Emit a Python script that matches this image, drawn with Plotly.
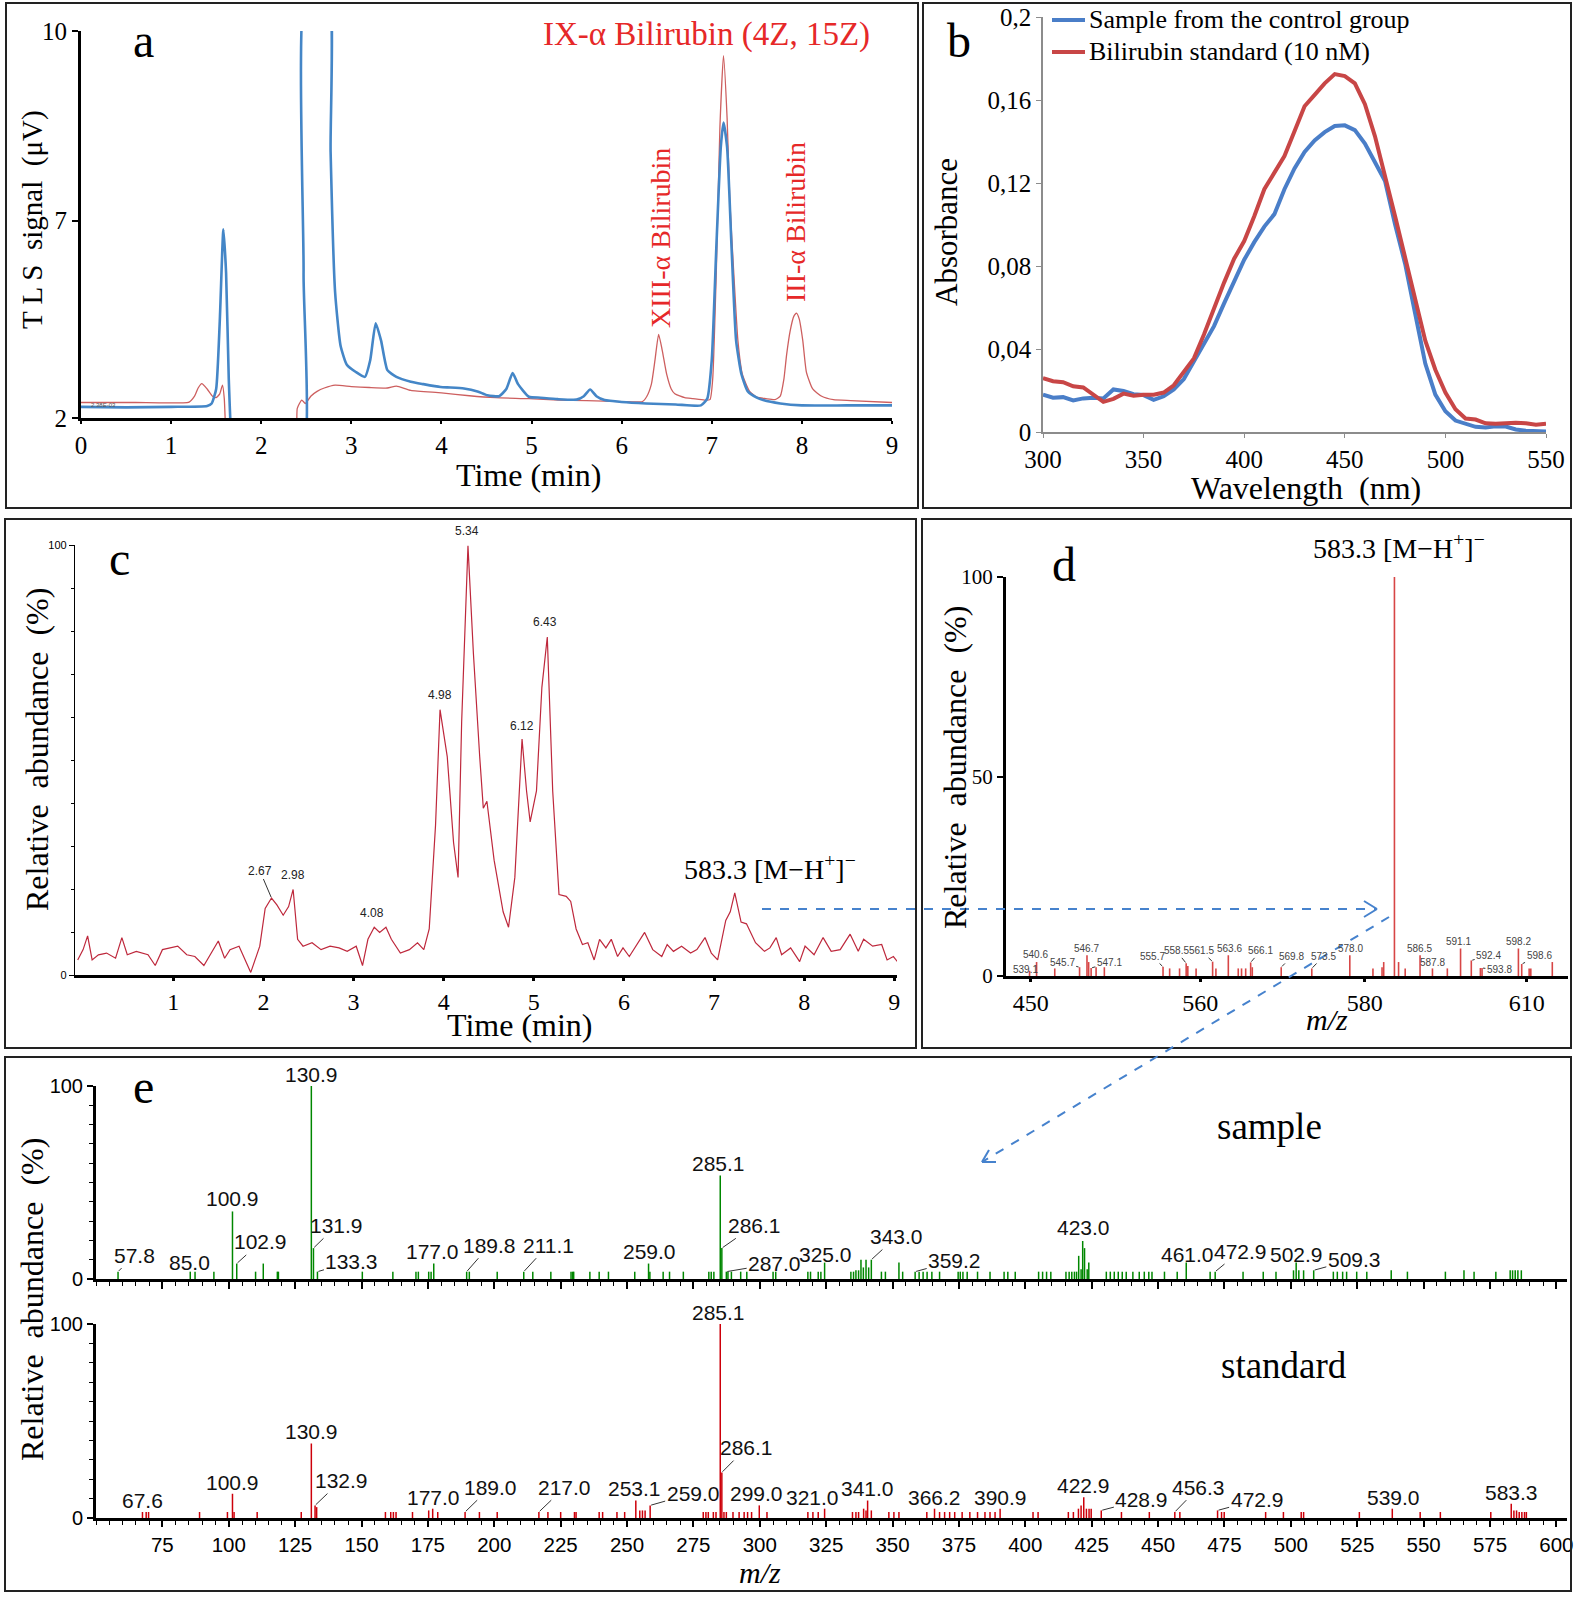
import plotly.graph_objects as go

W, H = 1575, 1600
SERIF = "Liberation Serif, Times New Roman, serif"
NARROW = "Liberation Sans Narrow, Arial Narrow, Liberation Sans, sans-serif"

# ---------------- Panel a: TLS chromatograms ----------------
a_time_sample = [0, 0.5, 1.0, 1.4, 1.45, 1.5, 1.54, 1.58, 1.61, 1.64, 1.67, 1.70, 2.44, 2.47, 2.50,
                 2.74, 2.77, 2.82, 2.88, 2.95, 3.05, 3.15, 3.21, 3.27, 3.33, 3.40, 3.5, 3.66, 3.8,
                 3.99, 4.1, 4.25, 4.4, 4.51, 4.64, 4.72, 4.79, 4.85, 4.97, 5.1, 5.29, 5.5, 5.58,
                 5.65, 5.72, 5.81, 6.0, 6.27, 6.6, 6.88, 6.95, 7.0, 7.05, 7.1, 7.13, 7.17, 7.22,
                 7.27, 7.33, 7.40, 7.5, 7.57, 7.76, 8.0, 8.5, 9.0]
a_sig_sample = [2.23, 2.22, 2.23, 2.25, 2.3, 2.6, 4.0, 5.9, 5.0, 2.8, 1.5, 1.0, 1.0, 5.0, 11.0,
                11.0, 7.5, 4.6, 3.5, 3.1, 2.95, 2.85, 3.2, 3.96, 3.6, 2.99, 2.85, 2.75, 2.70,
                2.64, 2.63, 2.61, 2.55, 2.47, 2.45, 2.6, 2.93, 2.7, 2.44, 2.42, 2.39, 2.38, 2.45,
                2.59, 2.45, 2.37, 2.33, 2.30, 2.28, 2.26, 2.4, 3.2, 5.5, 7.6, 8.11, 7.6, 5.5,
                3.6, 2.9, 2.55, 2.42, 2.37, 2.30, 2.26, 2.26, 2.26]
a_time_std = [0, 0.6, 1.2, 1.26, 1.30, 1.34, 1.40, 1.46, 1.50, 1.54, 1.57, 1.59, 1.61, 1.63, 2.36,
              2.40, 2.45, 2.49, 2.55, 2.62, 2.7, 2.82, 3.0, 3.2, 3.4, 3.5, 3.66, 4.0, 4.31, 4.6,
              4.97, 5.3, 5.61, 6.0, 6.23, 6.28, 6.33, 6.37, 6.41, 6.45, 6.50, 6.55, 6.59, 6.7,
              6.79, 6.92, 6.98, 7.01, 7.05, 7.09, 7.13, 7.17, 7.20, 7.24, 7.29, 7.34, 7.42,
              7.50, 7.6, 7.70, 7.76, 7.80, 7.83, 7.87, 7.91, 7.94, 7.97, 8.01, 8.05, 8.12,
              8.22, 8.35, 8.54, 9.0]
a_sig_std = [2.32, 2.32, 2.33, 2.45, 2.62, 2.71, 2.6, 2.45, 2.42, 2.5, 2.68, 2.4, 1.5, 1.0, 1.0,
             2.2, 2.37, 2.3, 2.45, 2.55, 2.62, 2.68, 2.65, 2.63, 2.62, 2.66, 2.57, 2.52, 2.46,
             2.42, 2.40, 2.37, 2.36, 2.34, 2.34, 2.45, 2.7, 3.2, 3.73, 3.4, 2.9, 2.6, 2.5, 2.42,
             2.40, 2.37, 2.38, 2.8, 5.0, 8.0, 9.49, 8.2, 6.5, 5.13, 3.6, 2.9, 2.55, 2.43, 2.40,
             2.38, 2.45, 2.8, 3.3, 3.8, 4.1, 4.17, 4.05, 3.6, 2.95, 2.6, 2.45, 2.38, 2.36, 2.32]
a_ytick_vals = [2, 6.08, 10]
a_ytick_text = ["2", "7", "10"]
a_xticks = [0, 1, 2, 3, 4, 5, 6, 7, 8, 9]

# ---------------- Panel b: absorbance spectra ----------------
b_wavelength = [300, 305, 310, 315, 320, 325, 330, 335, 340, 345, 350, 355, 360, 365, 370, 375,
                380, 385, 390, 395, 400, 405, 410, 415, 420, 425, 430, 435, 440, 445, 450, 455,
                460, 465, 470, 475, 480, 485, 490, 495, 500, 505, 510, 515, 520, 525, 530, 535,
                540, 545, 550]
b_sample = [.018, .0165, .0168, .0152, .0162, .0165, .0162, .0205, .0198, .0182, .0178, .0155,
            .0172, .0205, .0255, .034, .042, .051, .062, .073, .083, .0915, .099, .105, .117,
            .127, .135, .1405, .1445, .1475, .1478, .1455, .139, .130, .121, .100, .081, .057,
            .033, .018, .010, .0055, .0038, .0025, .0022, .0028, .0026, .0012, .0006, .0005,
            .0002]
b_standard = [.026, .0245, .024, .022, .0215, .018, .0145, .016, .0185, .0175, .018, .018, .019,
              .0225, .029, .0355, .047, .060, .072, .0835, .092, .104, .117, .125, .133, .145,
              .157, .1625, .168, .1725, .1715, .168, .158, .1425, .124, .104, .084, .064, .044,
              .030, .019, .011, .0065, .006, .0042, .004, .0042, .0045, .0042, .0035, .004]
b_series_names = ["Sample from the control group", "Bilirubin standard (10 nM)"]
b_yticks = [0, 0.04, 0.08, 0.12, 0.16, 0.2]
b_ytick_text = ["0", "0,04", "0,08", "0,12", "0,16", "0,2"]
b_xticks = [300, 350, 400, 450, 500, 550]

# ---------------- Panel c: LC-MS chromatogram ----------------
c_time = [-0.06, 0.00, 0.05, 0.10, 0.17, 0.26, 0.36, 0.43, 0.49, 0.59, 0.72, 0.80, 0.88, 0.98,
          1.05, 1.15, 1.24, 1.34, 1.44, 1.50, 1.57, 1.63, 1.73, 1.79, 1.86, 1.96, 2.02, 2.09,
          2.15, 2.22, 2.28, 2.33, 2.38, 2.44, 2.54, 2.64, 2.74, 2.84, 2.93, 3.03, 3.10, 3.16,
          3.23, 3.29, 3.36, 3.42, 3.52, 3.62, 3.71, 3.78, 3.84, 3.91, 3.96, 4.04, 4.11, 4.16,
          4.20, 4.27, 4.33, 4.40, 4.44, 4.48, 4.56, 4.66, 4.72, 4.79, 4.87, 4.92, 4.96, 5.03,
          5.09, 5.15, 5.21, 5.28, 5.36, 5.41, 5.47, 5.54, 5.60, 5.67, 5.73, 5.80, 5.86, 5.93,
          5.99, 6.06, 6.16, 6.23, 6.32, 6.42, 6.48, 6.55, 6.64, 6.74, 6.81, 6.90, 6.97, 7.04,
          7.13, 7.18, 7.23, 7.30, 7.36, 7.46, 7.56, 7.62, 7.69, 7.75, 7.85, 7.95, 8.01, 8.11,
          8.21, 8.30, 8.40, 8.51, 8.60, 8.66, 8.76, 8.86, 8.92, 8.99, 9.05]
c_abund = [3.5, 5.9, 9.1, 3.5, 4.7, 5.1, 3.9, 8.7, 4.7, 5.5, 4.7, 2.2, 5.9, 6.3, 6.7, 4.7, 4.3,
           2.2, 5.9, 7.9, 3.9, 5.9, 6.7, 3.9, 0.6, 6.7, 15.5, 17.9, 16.3, 13.9, 15.9, 19.9, 8.3,
           6.7, 7.5, 5.9, 6.7, 6.3, 5.5, 6.7, 2.2, 8.3, 11.1, 9.9, 11.1, 8.3, 5.1, 5.9, 7.5, 5.9,
           10.7, 34.8, 61.7, 50.8, 30.8, 22.7, 58.9, 99.8, 74.9, 50.8, 38.8, 40.4, 26.7, 14.7,
           11.1, 22.7, 54.9, 42.8, 35.6, 42.8, 66.9, 78.6, 42.8, 18.7, 18.3, 17.1, 10.7, 7.1,
           7.5, 3.5, 8.3, 6.3, 8.3, 4.3, 6.3, 4.3, 7.5, 9.9, 5.9, 4.3, 7.1, 5.5, 6.7, 5.1, 5.9,
           8.7, 5.1, 3.5, 12.7, 14.7, 19.1, 12.3, 11.9, 7.5, 5.5, 6.3, 8.7, 4.7, 6.3, 3.1, 6.7,
           4.7, 8.7, 5.5, 5.9, 9.5, 5.5, 8.3, 6.7, 7.1, 3.5, 4.3, 2.7]
c_peak_text = ["2.67", "2.98", "4.08", "4.98", "5.34", "6.12", "6.43"]
c_peak_label_x = [1.96, 2.33, 3.21, 3.96, 4.26, 4.87, 5.13]
c_peak_label_y = [24.3, 23.2, 14.4, 65.0, 103.2, 57.9, 82.0]
c_peak_x = [2.09, None, None, None, None, None, None]
c_peak_y = [17.9, None, None, None, None, None, None]
c_xticks = [1, 2, 3, 4, 5, 6, 7, 8, 9]
c_yticks = [0, 100]

# ---------------- Panel d: MS spectrum ----------------
d_mz = [539.05, 539.9, 542.1, 545.1, 546.0, 546.2, 546.5, 547.1, 548.1, 555.2, 556.0, 557.2,
        558.0, 558.2, 559.2, 561.2, 561.6, 563.1, 564.3, 564.7, 565.2, 565.8, 566.0, 569.5,
        573.2, 577.8, 580.6, 581.7, 581.9, 583.2, 583.7, 584.5, 586.3, 587.8, 589.6, 591.2,
        592.5, 593.6, 593.8, 598.2, 598.6, 599.5, 599.7, 602.3]
d_int = [1.3, 3.5, 1.9, 2.2, 5.2, 3.5, 2.0, 2.2, 2.2, 2.3, 1.9, 1.9, 3.2, 2.5, 1.9, 3.6, 1.9,
         5.2, 1.9, 1.9, 1.9, 3.4, 2.2, 2.2, 1.9, 5.2, 1.9, 2.2, 3.5, 100, 3.5, 1.9, 5.2, 1.9,
         1.9, 6.9, 3.9, 2.0, 2.0, 6.9, 3.0, 1.9, 1.9, 3.5]
d_label_text = ["539.1", "540.6", "545.7", "546.7", "547.1", "555.7", "558.5", "561.5", "563.6",
                "566.1", "569.8", "573.5", "578.0", "586.5", "587.8", "591.1", "592.4", "593.8",
                "598.2", "598.6"]
d_label_x = [538.6, 539.8, 543.0, 546.0, 548.7, 553.9, 556.8, 559.8, 563.2, 567.0, 570.8, 574.6,
             577.9, 586.2, 587.8, 591.0, 594.6, 595.9, 598.2, 600.7]
d_label_y = [1.6, 5.3, 3.3, 6.8, 3.3, 4.9, 6.3, 6.3, 6.8, 6.3, 4.9, 4.9, 6.8, 6.8, 3.4, 8.6,
             5.1, 1.6, 8.6, 5.1]
d_leader_x = [None, None, 545.1, None, 546.5, 555.2, 558.0, 561.2, None, 565.8, 569.5, 573.2,
              None, None, None, None, 592.5, 593.8, None, 598.6]
d_leader_y = [None, None, 2.2, None, 2.0, 2.3, 3.2, 3.6, None, 3.4, 2.2, 1.9, None, None, None,
              None, 3.9, 2.0, None, 3.0]
d_tickvals = [539.2, 559.7, 579.6, 599.2]
d_ticktext = ["450", "560", "580", "610"]
d_yticks = [0, 50, 100]

# ---------------- Panel e: MS/MS spectra ----------------
e_sample_mz = [58.3, 85.5, 87.3, 94.4, 101.4, 103.0, 110.1, 113.0, 118.3, 118.7, 131.1, 131.9,
               133.4, 150.3, 161.8, 170.5, 171.4, 175.3, 176.2, 177.2, 189.6, 190.6, 201.1,
               211.1, 214.5, 221.3, 228.9, 229.5, 229.9, 236.0, 239.5, 243.0, 252.9, 258.1,
               258.6, 263.6, 266.0, 271.2, 280.8, 281.7, 282.7, 285.1, 285.7, 287.4, 288.0,
               289.3, 292.8, 295.1, 305.0, 306.0, 318.1, 319.1, 322.0, 323.0, 324.4, 334.3,
               335.3, 336.2, 337.2, 338.1, 339.0, 340.0, 341.0, 342.0, 345.8, 347.3, 352.4,
               353.8, 358.5, 360.0, 361.5, 363.0, 364.8, 367.7, 374.7, 375.5, 376.5, 378.1,
               382.0, 386.7, 392.0, 393.4, 396.2, 405.0, 406.5, 408.0, 409.6, 415.3, 416.5,
               417.5, 418.5, 419.3, 420.1, 421.0, 421.6, 422.3, 423.3, 423.9, 430.5, 432.0,
               433.5, 435.0, 436.5, 438.0, 440.5, 442.9, 444.8, 446.5, 447.7, 452.4, 457.2,
               460.6, 469.6, 471.5, 482.0, 489.6, 494.4, 501.0, 502.0, 503.0, 504.8, 508.6,
               516.0, 517.5, 519.5, 521.0, 524.8, 528.6, 537.8, 543.9, 558.2, 565.2, 569.0,
               577.2, 582.6, 583.5, 584.5, 585.5, 586.8]
e_sample_int = [3.8, 3.8, 3.8, 3.8, 35, 8, 3.8, 8, 3.8, 3.8, 100, 16, 3.8, 3.8, 3.8, 3.8, 3.8,
                3.8, 3.8, 8, 3.8, 3.8, 3.8, 3.8, 3.8, 3.8, 3.8, 3.8, 3.8, 3.8, 3.8, 3.8, 3.8, 8,
                3.8, 3.8, 3.8, 3.8, 3.8, 3.8, 3.8, 53.6, 16, 3.8, 3.8, 3.8, 3.8, 3.8, 3.8, 3.8,
                3.8, 3.8, 3.8, 3.8, 8.5, 3.8, 3.8, 4.5, 4.5, 10, 6, 10, 6, 10, 3.8, 3.8, 8.5,
                3.8, 3.8, 3.8, 3.8, 3.8, 3.8, 3.8, 3.8, 3.8, 3.8, 3.8, 3.8, 3.8, 3.8, 3.8, 3.8,
                3.8, 3.8, 3.8, 3.8, 3.8, 3.8, 3.8, 3.8, 3.8, 12, 5, 19.7, 16, 5, 8.5, 3.8, 3.8,
                3.8, 3.8, 3.8, 3.8, 3.8, 3.8, 3.8, 3.8, 3.8, 3.8, 3.8, 8.5, 3.8, 3.8, 3.8, 3.8,
                3.8, 4.5, 8.5, 4.5, 4.5, 4.5, 3.8, 3.8, 3.8, 3.8, 3.8, 3.8, 4.5, 3.8, 3.8, 4.5,
                3.8, 3.8, 4.5, 4.5, 4.5, 4.5, 4.5]
e_sample_label_text = ["57.8", "85.0", "100.9", "102.9", "130.9", "131.9", "133.3", "177.0",
                       "189.8", "211.1", "259.0", "285.1", "286.1", "287.0", "325.0", "343.0",
                       "359.2", "423.0", "461.0", "472.9", "502.9", "509.3"]
e_sample_label_x = [64.5, 85.2, 101.4, 112.0, 131.1, 140.7, 146.4, 176.8, 198.3, 220.3, 258.6,
                    284.3, 298.0, 305.6, 324.8, 351.5, 373.4, 422.0, 461.0, 481.0, 502.0, 523.9]
e_sample_label_y = [12.4, 8.5, 41.6, 19.2, 106, 27.8, 8.9, 14.0, 17.5, 17.5, 14.0, 59.6, 27.8,
                    8.0, 12.8, 22.0, 9.4, 26.5, 12.8, 14.5, 12.8, 10.3]
e_sample_leader_x = [58.3, None, None, 103.0, None, 131.9, 133.4, None, 189.6, 211.1, None,
                     None, 285.7, 287.4, None, 342.0, 358.5, None, None, 471.5, None, 508.6]
e_sample_leader_y = [3.8, None, None, 8, None, 16, 3.8, None, 3.8, 3.8, None, None, 16, 3.8,
                     None, 10, 3.8, None, None, 3.8, None, 4.5]

e_std_mz = [67.5, 68.9, 69.8, 89.0, 99.5, 101.4, 102.0, 110.7, 127.3, 131.1, 132.5, 133.1, 159.0,
            161.0, 162.0, 163.0, 169.2, 175.3, 176.8, 178.7, 189.0, 194.4, 201.1, 216.8, 220.2,
            225.0, 230.2, 230.8, 239.5, 240.8, 246.2, 249.1, 253.3, 254.8, 255.8, 256.8, 258.7,
            278.7, 279.7, 280.6, 282.5, 283.5, 285.1, 285.7, 286.5, 287.4, 289.9, 292.2, 294.1,
            295.4, 296.9, 299.8, 302.7, 318.1, 320.0, 322.0, 324.4, 334.9, 336.2, 337.2, 339.1,
            340.0, 340.6, 342.0, 348.6, 350.5, 352.4, 362.9, 365.8, 367.7, 369.6, 371.5, 373.4,
            376.2, 379.1, 382.0, 384.8, 386.7, 388.6, 390.5, 402.9, 404.8, 416.2, 418.1, 420.0,
            421.0, 422.0, 423.0, 424.0, 424.8, 428.6, 436.2, 446.7, 456.3, 458.2, 472.4, 473.9,
            474.9, 490.5, 497.2, 503.9, 504.8, 525.8, 538.2, 548.7, 556.3, 575.3, 583.0, 584.0,
            585.0, 586.0, 587.0, 588.0, 588.7]
e_std_int = [3.1, 3.1, 3.1, 3.1, 3.1, 12.5, 3.1, 3.1, 3.1, 38.4, 6.5, 5.6, 3.1, 3.1, 3.1, 3.1,
             3.1, 3.9, 4.8, 3.1, 3.1, 3.1, 3.1, 3.1, 3.1, 3.1, 3.1, 3.1, 3.1, 3.1, 3.1, 3.1, 9.0,
             3.9, 3.9, 3.9, 6.5, 3.1, 3.1, 3.1, 3.1, 3.1, 100, 23.5, 3.1, 3.1, 3.1, 3.1, 3.1,
             3.1, 3.1, 6.5, 3.1, 3.1, 3.1, 3.1, 4.8, 3.1, 3.1, 3.1, 4.8, 3.9, 9.0, 3.9, 3.1,
             3.1, 3.1, 3.1, 4.8, 3.1, 3.1, 3.1, 3.1, 3.1, 3.1, 3.1, 3.1, 3.1, 3.1, 4.8, 3.1,
             3.1, 3.1, 3.1, 4.8, 6.5, 10.7, 4.8, 4.8, 4.8, 3.9, 3.1, 3.1, 3.1, 3.1, 3.9, 3.1,
             3.1, 3.1, 3.1, 3.1, 3.1, 3.1, 4.8, 3.1, 3.1, 3.1, 7.3, 3.9, 3.9, 3.1, 3.1, 3.1, 3.1]
e_std_label_text = ["67.6", "100.9", "130.9", "132.9", "177.0", "189.0", "217.0", "253.1",
                    "259.0", "285.1", "286.1", "299.0", "321.0", "341.0", "366.2", "390.9",
                    "422.9", "428.9", "456.3", "472.9", "539.0", "583.3"]
e_std_label_x = [67.5, 101.4, 131.1, 142.3, 177.2, 198.6, 226.6, 252.9, 274.9, 284.5, 295.0,
                 298.9, 320.0, 340.6, 365.8, 390.5, 422.0, 443.9, 465.4, 487.3, 538.5, 583.0]
e_std_label_y = [9.0, 18.4, 44.4, 19.3, 10.4, 15.9, 15.9, 15.0, 12.8, 106, 36.3, 12.5, 10.4,
                 15.4, 10.4, 10.4, 16.7, 9.4, 15.9, 9.4, 10.4, 13.3]
e_std_leader_x = [None, None, None, 132.5, None, 189.0, 216.8, None, 258.7, None, 285.7, None,
                  None, None, None, None, None, 428.6, 456.3, 472.4, None, None]
e_std_leader_y = [None, None, None, 6.5, None, 3.1, 3.1, None, 6.5, None, 23.5, None, None,
                  None, None, None, None, 3.9, 3.1, 3.9, None, None]
e_xticks = [75, 100, 125, 150, 175, 200, 225, 250, 275, 300, 325, 350, 375, 400, 425, 450, 475,
            500, 525, 550, 575, 600]
e_yticks = [0, 100]

# ---------------- colours ----------------
BLUE_A = "rgb(68,134,199)"
RED_A = "rgb(205,95,95)"
BLUE_B = "rgb(74,126,200)"
RED_B = "rgb(200,70,70)"
RED_C = "rgb(190,40,60)"
RED_D = "rgb(215,70,70)"
GREEN_E = "rgb(0,135,0)"
RED_E = "rgb(205,0,10)"
ARROW = "rgb(70,130,205)"


def px(x):
    return x / W


def py(y):
    return 1 - y / H


def stems(xs, hs):
    X, Y = [], []
    for x, h in zip(xs, hs):
        X += [x, x, None]
        Y += [0, h, None]
    return X, Y


fig = go.Figure()

# panel a
fig.add_trace(go.Scatter(x=a_time_std, y=a_sig_std, mode="lines", xaxis="x", yaxis="y",
                         line=dict(color=RED_A, width=1.3, shape="spline", smoothing=0.5),
                         showlegend=False))
fig.add_trace(go.Scatter(x=a_time_sample, y=a_sig_sample, mode="lines", xaxis="x", yaxis="y",
                         line=dict(color=BLUE_A, width=2.6, shape="spline", smoothing=0.5),
                         showlegend=False))
# panel b
fig.add_trace(go.Scatter(x=b_wavelength, y=b_sample, mode="lines", xaxis="x2", yaxis="y2",
                         name=b_series_names[0], showlegend=False,
                         line=dict(color=BLUE_B, width=4)))
fig.add_trace(go.Scatter(x=b_wavelength, y=b_standard, mode="lines", xaxis="x2", yaxis="y2",
                         name=b_series_names[1], showlegend=False,
                         line=dict(color=RED_B, width=4)))
# panel c
fig.add_trace(go.Scatter(x=c_time, y=c_abund, mode="lines", xaxis="x3", yaxis="y3",
                         line=dict(color=RED_C, width=1.2), showlegend=False))
# panel d
dx_, dy_ = stems(d_mz, d_int)
fig.add_trace(go.Scatter(x=dx_, y=dy_, mode="lines", xaxis="x4", yaxis="y4",
                         line=dict(color=RED_D, width=1.6), showlegend=False))
# panel e
ex_, ey_ = stems(e_sample_mz, e_sample_int)
fig.add_trace(go.Scatter(x=ex_, y=ey_, mode="lines", xaxis="x5", yaxis="y5",
                         line=dict(color=GREEN_E, width=1.5), showlegend=False))
sx_, sy_ = stems(e_std_mz, e_std_int)
fig.add_trace(go.Scatter(x=sx_, y=sy_, mode="lines", xaxis="x6", yaxis="y6",
                         line=dict(color=RED_E, width=1.5), showlegend=False))


def axis(domain, rng, **kw):
    d = dict(domain=domain, range=rng, showgrid=False, zeroline=False, showline=True,
             linecolor="black", linewidth=3, ticks="outside", tickcolor="black",
             fixedrange=True, automargin=False)
    d.update(kw)
    return d


layout = dict(
    width=W, height=H, margin=dict(l=0, r=0, t=0, b=0, pad=0, autoexpand=False),
    paper_bgcolor="white", plot_bgcolor="white",
    font=dict(family=SERIF, color="black"),
    showlegend=False,
)

# a
layout["xaxis"] = axis([px(81), px(892)], [0, 9], anchor="y", tickvals=a_xticks,
                       ticklen=3, tickwidth=2, tickfont=dict(family=SERIF, size=25))
layout["yaxis"] = axis([py(418), py(31)], [2, 10], anchor="x", tickvals=a_ytick_vals,
                       ticktext=a_ytick_text, ticklen=6, tickwidth=2,
                       tickfont=dict(family=SERIF, size=25))
# b
layout["xaxis2"] = axis([px(1043), px(1546)], [300, 550], anchor="y2", tickvals=b_xticks,
                        linecolor="#8c8c8c", linewidth=1.5, tickcolor="#8c8c8c", ticklen=4,
                        tickfont=dict(family=SERIF, size=25))
layout["yaxis2"] = axis([py(432), py(17)], [0, 0.2], anchor="x2", tickvals=b_yticks,
                        ticktext=b_ytick_text, linecolor="#8c8c8c", linewidth=1.5,
                        tickcolor="#8c8c8c", ticklen=5, tickfont=dict(family=SERIF, size=25))
# c
layout["xaxis3"] = axis([px(75), px(897)], [-0.09, 9.03], anchor="y3", tickvals=c_xticks,
                        ticklen=3, tickwidth=2.5, linewidth=3,
                        tickfont=dict(family=SERIF, size=24))
layout["yaxis3"] = axis([py(975), py(545)], [0, 100], anchor="x3", tickvals=c_yticks,
                        linewidth=1.2, ticklen=5, tickwidth=1,
                        tickfont=dict(family=NARROW, size=11),
                        minor=dict(dtick=10, ticklen=3, ticks="outside", tickcolor="black"))
# d
layout["xaxis4"] = axis([px(1006), px(1568)], [536.2, 604.2], anchor="y4", tickvals=d_tickvals,
                        ticktext=d_ticktext, ticklen=3, tickwidth=3,
                        tickfont=dict(family=SERIF, size=24))
layout["yaxis4"] = axis([py(976), py(577)], [0, 100], anchor="x4", tickvals=d_yticks,
                        ticklen=6, tickwidth=2, tickfont=dict(family=SERIF, size=21))
# e top
minor_x = dict(dtick=5, tick0=50, ticklen=4, ticks="outside", tickcolor="black", tickwidth=1)
minor_y = dict(dtick=10, ticklen=4, ticks="outside", tickcolor="black", tickwidth=1)
layout["xaxis5"] = axis([px(96), px(1567)], [50, 604], anchor="y5", tickvals=e_xticks,
                        showticklabels=False, ticklen=7, tickwidth=2, minor=minor_x)
layout["yaxis5"] = axis([py(1279), py(1086)], [0, 100], anchor="x5", tickvals=e_yticks,
                        ticklen=6, tickwidth=1.5,
                        tickfont=dict(family=NARROW, size=20), minor=minor_y)
# e bottom
layout["xaxis6"] = axis([px(96), px(1567)], [50, 604], anchor="y6", tickvals=e_xticks,
                        ticklen=6, tickwidth=2, minor=minor_x,
                        tickfont=dict(family=NARROW, size=20.5))
layout["yaxis6"] = axis([py(1518), py(1324)], [0, 100], anchor="x6", tickvals=e_yticks,
                        ticklen=6, tickwidth=1.5,
                        tickfont=dict(family=NARROW, size=20), minor=minor_y)

fig.update_layout(**layout)

ann = []


def paper_text(x, y, text, size, color="black", angle=0, family=SERIF, **kw):
    d = dict(x=px(x), y=py(y), xref="paper", yref="paper", text=text, showarrow=False,
             font=dict(family=family, size=size, color=color), textangle=angle,
             xanchor="center", yanchor="middle")
    d.update(kw)
    ann.append(d)


# panel letters
for lx, ly, t in [(143, 40, "a"), (959, 40, "b"), (119, 558, "c"), (1064, 564, "d"),
                  (143, 1086, "e")]:
    paper_text(lx, ly, t, 48)

# panel a texts
paper_text(706, 35, "IX-α Bilirubin (4Z, 15Z)", 33, color="rgb(230,40,40)")
paper_text(661, 238, "XIII-α Bilirubin", 28, color="rgb(230,40,40)", angle=-90)
paper_text(795, 222, "III-α Bilirubin", 28, color="rgb(230,40,40)", angle=-90)
paper_text(529, 475, "Time (min)", 32)
paper_text(33, 220, "T L S  signal  (μV)", 29, angle=-90)
paper_text(103, 405, "2.38E-03", 6, color="#555", family=NARROW)

# panel b texts + legend
paper_text(1306, 488, "Wavelength  (nm)", 32)
paper_text(946, 232, "Absorbance", 31, angle=-90)
shapes = []
for name, col, ly in [(b_series_names[0], BLUE_B, 20), (b_series_names[1], RED_B, 52)]:
    shapes.append(dict(type="line", xref="paper", yref="paper", x0=px(1052), x1=px(1085),
                       y0=py(ly), y1=py(ly), line=dict(color=col, width=4)))
    paper_text(1087, ly, name, 26, xanchor="left")

# panel c texts
paper_text(520, 1025, "Time (min)", 32)
paper_text(37, 750, "Relative  abundance  (%)", 32, angle=-90)
paper_text(770, 867, "583.3 [M−H<sup>+</sup>]<sup>−</sup>", 28)

# panel d texts
paper_text(1399, 546, "583.3 [M−H<sup>+</sup>]<sup>−</sup>", 28)
paper_text(1327, 1019, "<i>m/z</i>", 30)
paper_text(955, 767, "Relative  abundance  (%)", 32, angle=-90)

# panel e texts
paper_text(1269, 1126, "sample", 37)
paper_text(1284, 1365, "standard", 37)
paper_text(760, 1572, "<i>m/z</i>", 30)
paper_text(32, 1300, "Relative  abundance  (%)", 32, angle=-90)


def data_labels(texts, lxs, lys, txs, tys, xr, yr, size, color, px_per_unit, family=NARROW):
    for t, lx, ly, tx, ty in zip(texts, lxs, lys, txs, tys):
        if tx is None:
            shift = 0
            if ly > 100:
                shift = (ly - 100) * px_per_unit
                ly = 100
            ann.append(dict(x=lx, y=ly, xref=xr, yref=yr, text=t, showarrow=False,
                            yshift=shift, font=dict(family=family, size=size, color=color)))
        else:
            ann.append(dict(x=tx, y=ty, xref=xr, yref=yr, ax=lx, ay=ly, axref=xr, ayref=yr,
                            text=t, showarrow=True, arrowhead=0, arrowwidth=1,
                            arrowcolor="#333", standoff=1,
                            font=dict(family=family, size=size, color=color)))


data_labels(c_peak_text, c_peak_label_x, c_peak_label_y, c_peak_x, c_peak_y, "x3", "y3", 12,
            "#222", 4.30)
data_labels(d_label_text, d_label_x, d_label_y, d_leader_x, d_leader_y, "x4", "y4", 10, "#444",
            3.99)
data_labels(e_sample_label_text, e_sample_label_x, e_sample_label_y, e_sample_leader_x,
            e_sample_leader_y, "x5", "y5", 21, "#111", 1.93)
data_labels(e_std_label_text, e_std_label_x, e_std_label_y, e_std_leader_x, e_std_leader_y,
            "x6", "y6", 21, "#111", 1.94)

# panel borders
for x0, y0, x1, y1 in [(6, 3, 918, 508), (923, 3, 1571, 508), (5, 519, 916, 1048),
                       (922, 519, 1571, 1048), (5, 1057, 1571, 1591)]:
    shapes.append(dict(type="rect", xref="paper", yref="paper", x0=px(x0), x1=px(x1),
                       y0=py(y0), y1=py(y1), line=dict(color="#222", width=2)))


def seg(x0, y0, x1, y1, dash="dash"):
    shapes.append(dict(type="line", xref="paper", yref="paper", x0=px(x0), y0=py(y0),
                       x1=px(x1), y1=py(y1), line=dict(color=ARROW, width=2, dash=dash)))


# arrow c -> d
seg(762, 909, 1377, 909)
seg(1377, 909, 1364, 901, "solid")
seg(1377, 909, 1364, 917, "solid")
# arrow d -> e
seg(1389, 917, 982, 1162)
seg(982, 1162, 996, 1162, "solid")
seg(982, 1162, 989, 1150, "solid")

fig.update_layout(annotations=ann, shapes=shapes)
fig.write_html("out.html", config={"displayModeBar": False},
               post_script="document.body.style.margin='0px';")
